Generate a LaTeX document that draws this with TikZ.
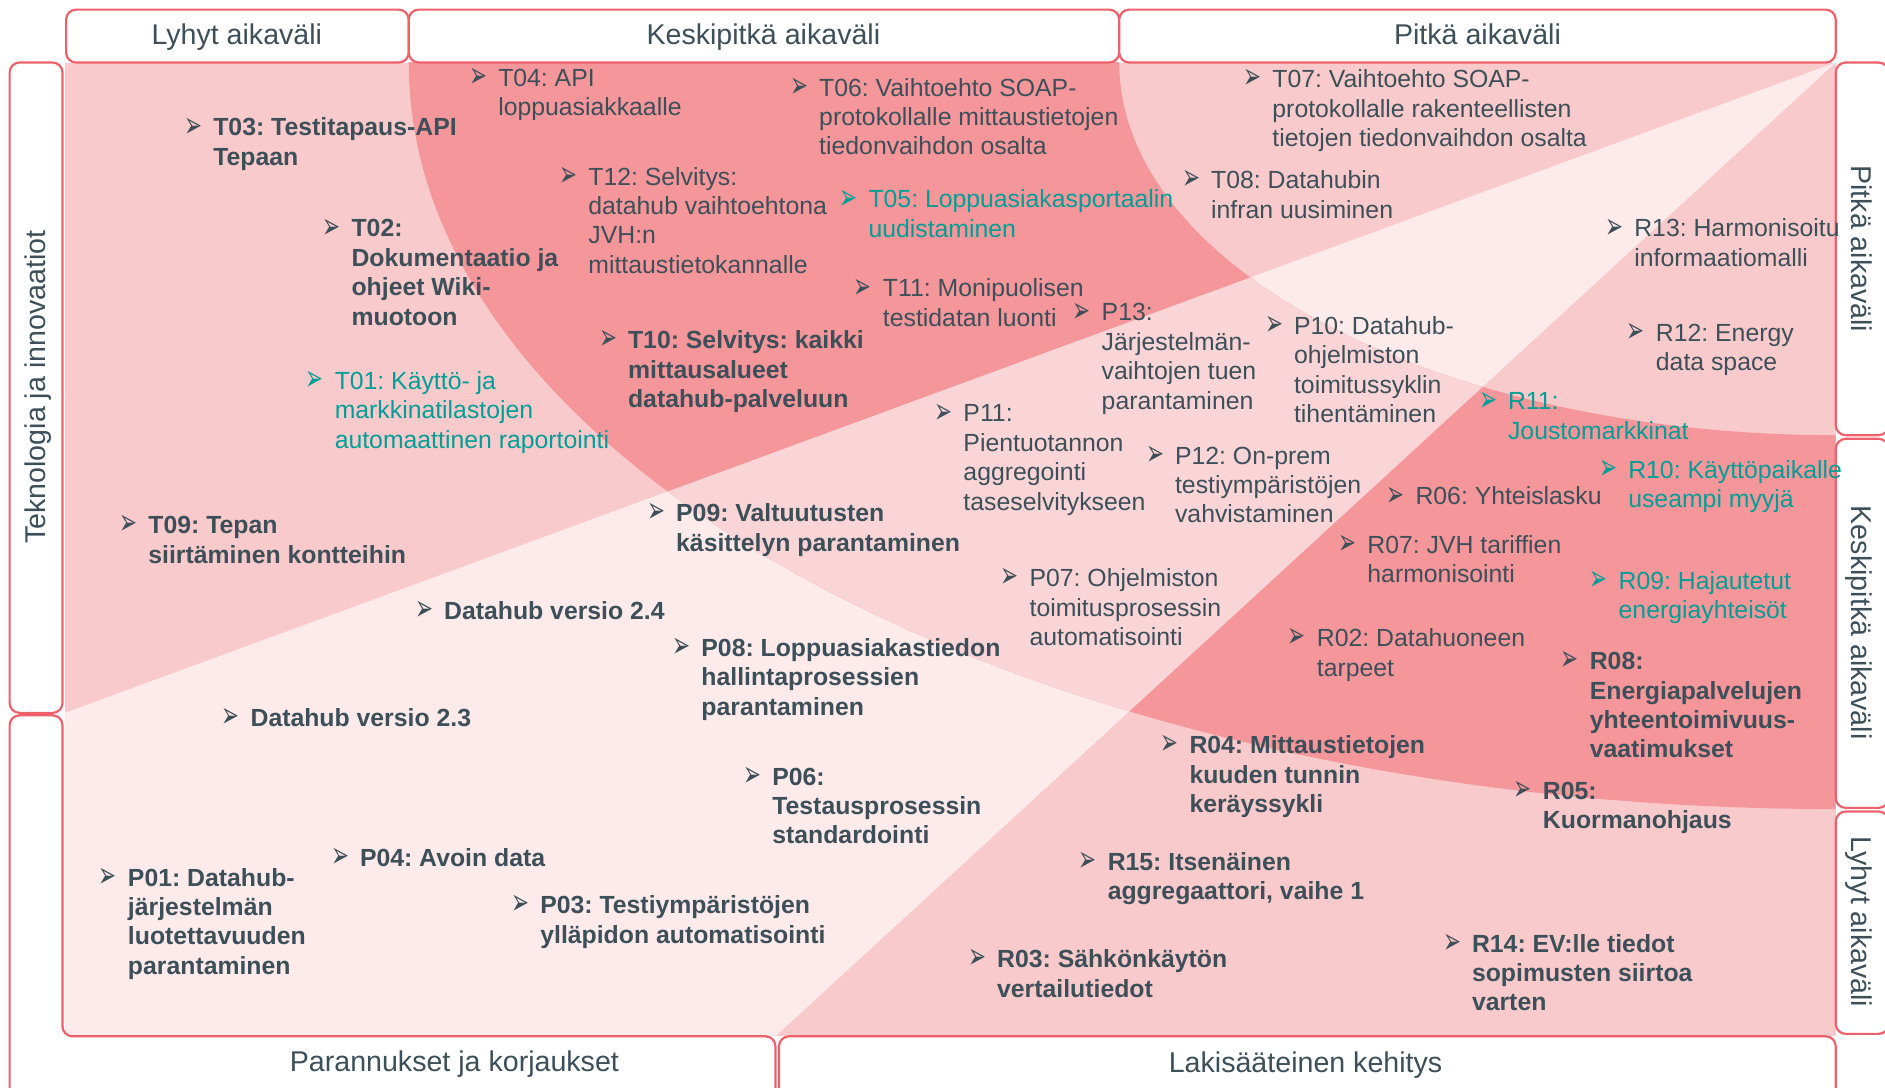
\documentclass[tikz,border=0pt]{standalone}
\usepackage{fontspec}
\setmainfont{Liberation Sans}
\newfontfamily\arrowfont{DejaVu Sans}
\frenchspacing

\definecolor{ink}{RGB}{61,79,88}
\definecolor{tealtxt}{RGB}{0,158,150}
\definecolor{boxred}{RGB}{238,96,106}
\definecolor{midpink}{RGB}{249,202,204}
\definecolor{darkpink}{RGB}{245,150,155}
\definecolor{lightpink}{RGB}{253,234,235}
\definecolor{ringpink}{RGB}{250,213,215}

\newcommand\bul{\makebox[14.5pt][l]{\raisebox{-0.6pt}{\resizebox*{9pt}{9.6pt}{\arrowfont\char"27A2}}}}
\newcommand\rows[1]{\begin{tabular}[t]{@{}l@{}}#1\end{tabular}}

\tikzset{
  box/.style={draw=boxred, line width=1.1pt, fill=white, rounded corners=5pt},
  head/.style={font=\fontsize{14.3}{16}\selectfont, text=ink, inner sep=0pt,
    text height=10.3pt, text depth=3pt},
  itm/.style={anchor=base west, inner sep=0pt, text=ink, font=\fontsize{12.4}{14.7}\selectfont},
  strong/.style={font=\fontsize{12.4}{14.7}\selectfont\bfseries},
  hl/.style={text=tealtxt},
}

\begin{document}
\begin{tikzpicture}[x=0.6011pt, y=-0.6011pt]
  \useasboundingbox (0,0) rectangle (1568,905);

  % panel: three sectors from the top right corner
  \fill[midpink] (54,52) rectangle (1527,862);
  \fill[lightpink] (1527,52) -- (54,593) -- (54,862) -- (645,862) -- cycle;
  \begin{scope}
    \clip (54,52) rectangle (1527,862);
    \fill[darkpink, even odd rule] (1527,52) ellipse [x radius=1187, y radius=621]
      (1527,52) ellipse [x radius=596, y radius=310];
  \end{scope}
  \begin{scope}
    \clip (1527,52) -- (54,593) -- (54,862) -- (645,862) -- cycle;
    \fill[ringpink, even odd rule] (1527,52) ellipse [x radius=1187, y radius=621]
      (1527,52) ellipse [x radius=596, y radius=310];
  \end{scope}

  % frame boxes
  \draw[box] (55,8) rectangle (340,52);
  \draw[box] (340,8) rectangle (931,52);
  \draw[box] (931,8) rectangle (1527,52);
  \draw[box] (8,52) rectangle (52,593);
  \draw[box] (52,862) -- (52,595) -- (8,595) -- (8,925) -- (645,925) -- (645,862) -- cycle;
  \draw[box] (648,862) rectangle (1527,925);
  \draw[box] (1527,52) rectangle (1571,362);
  \draw[box] (1527,365) rectangle (1571,672);
  \draw[box] (1527,675) rectangle (1571,860);

  \node[head] (short) at (197,31) {Lyhyt aikaväli};
  \node[head] (medium) at (635,31) {Keskipitkä aikaväli};
  \node[head] (long) at (1229,31) {Pitkä aikaväli};
  \node[head, rotate=90] (tech) at (32,322) {Teknologia ja innovaatiot};
  \node[head, rotate=-90] (rlong) at (1546,207) {Pitkä aikaväli};
  \node[head, rotate=-90] (rmedium) at (1546,518) {Keskipitkä aikaväli};
  \node[head, rotate=-90] (rshort) at (1546,767) {Lyhyt aikaväli};
  \node[head] (fixes) at (378,885) {Parannukset ja korjaukset};
  \node[head] (legal) at (1086,886) {Lakisääteinen kehitys};

  % items
  \node[itm] (t04) at (390,72) {\bul\rows{T04: API\\loppuasiakkaalle}};
  \node[itm, strong] (t03) at (153,113) {\bul\rows{T03: Testitapaus-API\\Tepaan}};
  \node[itm] (t06) at (657,80) {\bul\rows{T06: Vaihtoehto SOAP-\\protokollalle mittaustietojen\\tiedonvaihdon osalta}};
  \node[itm] (t07) at (1034,73) {\bul\rows{T07: Vaihtoehto SOAP-\\protokollalle rakenteellisten\\tietojen tiedonvaihdon osalta}};
  \node[itm] (t12) at (465,154) {\bul\rows{T12: Selvitys:\\datahub vaihtoehtona\\JVH:n\\mittaustietokannalle}};
  \node[itm, hl] (t05) at (698,173) {\bul\rows{T05: Loppuasiakasportaalin\\uudistaminen}};
  \node[itm] (t08) at (983,157) {\bul\rows{T08: Datahubin\\infran uusiminen}};
  \node[itm, strong] (t02) at (268,197) {\bul\rows{T02:\\Dokumentaatio ja\\ohjeet Wiki-\\muotoon}};
  \node[itm] (r13) at (1335,197) {\bul\rows{R13: Harmonisoitu\\informaatiomalli}};
  \node[itm] (t11) at (710,247) {\bul\rows{T11: Monipuolisen\\testidatan luonti}};
  \node[itm] (p13) at (892,267) {\bul\rows{P13:\\Järjestelmän-\\vaihtojen tuen\\parantaminen}};
  \node[itm] (p10) at (1052,278) {\bul\rows{P10: Datahub-\\ohjelmiston\\toimitussyklin\\tihentäminen}};
  \node[itm] (r12) at (1353,284) {\bul\rows{R12: Energy\\data space}};
  \node[itm, strong] (t10) at (498,290) {\bul\rows{T10: Selvitys: kaikki\\mittausalueet\\datahub-palveluun}};
  \node[itm, hl] (t01) at (254,324) {\bul\rows{T01: Käyttö- ja\\markkinatilastojen\\automaattinen raportointi}};
  \node[itm, hl] (r11) at (1230,341) {\bul\rows{R11:\\Joustomarkkinat}};
  \node[itm] (p11) at (777,351) {\bul\rows{P11:\\Pientuotannon\\aggregointi\\taseselvitykseen}};
  \node[itm] (p12) at (953,386) {\bul\rows{P12: On-prem\\testiympäristöjen\\vahvistaminen}};
  \node[itm, hl] (r10) at (1330,398) {\bul\rows{R10: Käyttöpaikalle\\useampi myyjä}};
  \node[itm] (r06) at (1153,420) {\bul\rows{R06: Yhteislasku}};
  \node[itm, strong] (t09) at (99,444) {\bul\rows{T09: Tepan\\siirtäminen kontteihin}};
  \node[itm, strong] (p09) at (538,434) {\bul\rows{P09: Valtuutusten\\käsittelyn parantaminen}};
  \node[itm] (r07) at (1113,460) {\bul\rows{R07: JVH tariffien\\harmonisointi}};
  \node[itm] (p07) at (832,488) {\bul\rows{P07: Ohjelmiston\\toimitusprosessin\\automatisointi}};
  \node[itm, hl] (r09) at (1322,490) {\bul\rows{R09: Hajautetut\\energiayhteisöt}};
  \node[itm, strong] (dh24) at (345,515) {\bul\rows{Datahub versio 2.4}};
  \node[itm, strong] (p08) at (559,546) {\bul\rows{P08: Loppuasiakastiedon\\hallintaprosessien\\parantaminen}};
  \node[itm] (r02) at (1071,538) {\bul\rows{R02: Datahuoneen\\tarpeet}};
  \node[itm, strong] (r08) at (1298,557) {\bul\rows{R08:\\Energiapalvelujen\\yhteentoimivuus-\\vaatimukset}};
  \node[itm, strong] (dh23) at (184,604) {\bul\rows{Datahub versio 2.3}};
  \node[itm, strong] (r04) at (965,627) {\bul\rows{R04: Mittaustietojen\\kuuden tunnin\\keräyssykli}};
  \node[itm, strong] (p06) at (618,653) {\bul\rows{P06:\\Testausprosessin\\standardointi}};
  \node[itm, strong] (r05) at (1259,665) {\bul\rows{R05:\\Kuormanohjaus}};
  \node[itm, strong] (p04) at (275,721) {\bul\rows{P04: Avoin data}};
  \node[itm, strong] (r15) at (897,724) {\bul\rows{R15: Itsenäinen\\aggregaattori, vaihe 1}};
  \node[itm, strong] (p01) at (82,737) {\bul\rows{P01: Datahub-\\järjestelmän\\luotettavuuden\\parantaminen}};
  \node[itm, strong] (p03) at (425,760) {\bul\rows{P03: Testiympäristöjen\\ylläpidon automatisointi}};
  \node[itm, strong] (r14) at (1200,792) {\bul\rows{R14: EV:lle tiedot\\sopimusten siirtoa\\varten}};
  \node[itm, strong] (r03) at (805,805) {\bul\rows{R03: Sähkönkäytön\\vertailutiedot}};
\end{tikzpicture}
\end{document}
